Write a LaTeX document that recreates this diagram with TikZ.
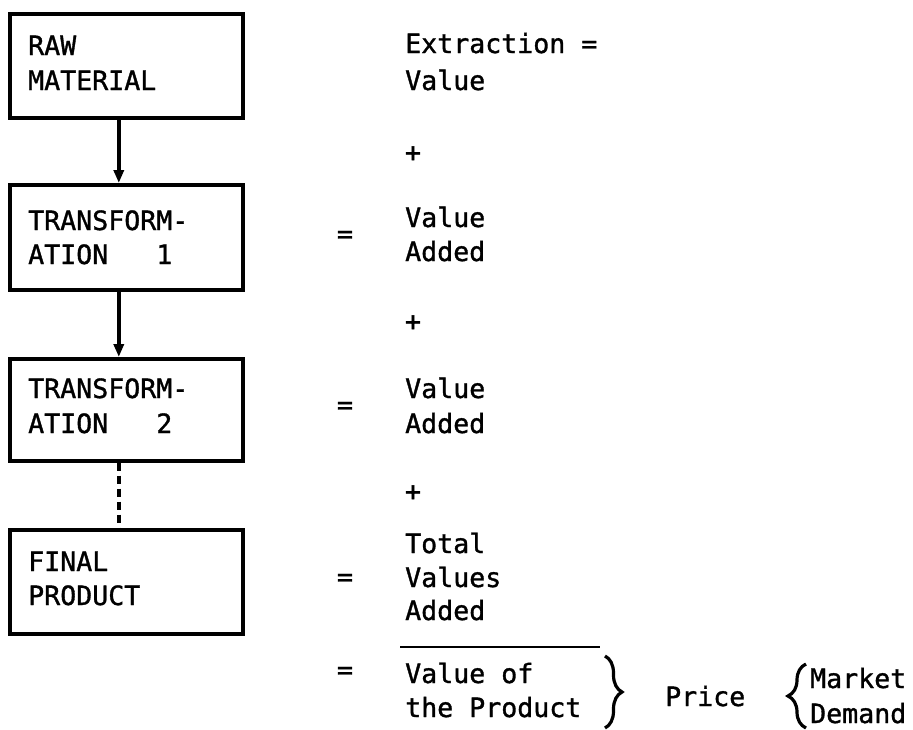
\documentclass[tikz,border=0pt]{standalone}
\usepackage{fontspec}
\newfontfamily\monofnt[FakeBold=1.2]{DejaVu Sans Mono}
\usetikzlibrary{arrows.meta,decorations.pathreplacing}
\begin{document}
\begin{tikzpicture}[x=1pt,y=-1pt,
  boxst/.style={draw,line width=3.6pt,minimum width=233pt,anchor=north west,inner sep=0pt},
  txt/.style={font=\monofnt\fontsize{26.6}{34}\selectfont,anchor=base west,inner sep=0pt},
  sym/.style={font=\monofnt\fontsize{26.6}{34}\selectfont,anchor=center,inner sep=0pt},
  arrowst/.style={line width=3.6pt,-{Triangle[length=13pt,width=10pt]}},
  dashst/.style={line width=3.6pt,dash pattern=on 8pt off 5pt},
  bracest/.style={line width=3.2pt,decorate,decoration={brace,amplitude=#1}}]
\useasboundingbox (0,0) rectangle (913,729);
% boxes
\node[boxst,minimum height=104pt] (b1) at (8,12) {};
\node[boxst,minimum height=105pt] (b2) at (8,183) {};
\node[boxst,minimum height=102pt] (b3) at (8,357) {};
\node[boxst,minimum height=104pt] (b4) at (8,528) {};
% box texts
\node[txt] (t1a) at (28,55) {RAW};
\node[txt] (t1b) at (28,90) {MATERIAL};
\node[txt] (t2a) at (28,230) {TRANSFORM-};
\node[txt] (t2b) at (28,264) {ATION\ \ \ 1};
\node[txt] (t3a) at (28,398) {TRANSFORM-};
\node[txt] (t3b) at (28,433) {ATION\ \ \ 2};
\node[txt] (t4a) at (28,571) {FINAL};
\node[txt] (t4b) at (28,605) {PRODUCT};
% connectors
\draw[arrowst] ([xshift=-7.5pt]b1.south) -- ([xshift=-7.5pt]b2.north);
\draw[arrowst] ([xshift=-7.5pt]b2.south) -- ([xshift=-7.5pt]b3.north);
\draw[dashst] ([xshift=-7.5pt]b3.south) -- ([xshift=-7.5pt]b4.north);
% right column
\node[txt] (r1a) at (405,53) {Extraction =};
\node[txt] (r1b) at (405,90) {Value};
\node[sym] (p1) at (413,154) {+};
\node[sym] (e2) at (345,237) {=};
\node[txt] (r2a) at (405,227) {Value};
\node[txt] (r2b) at (405,261) {Added};
\node[sym] (p2) at (413,323) {+};
\node[sym] (e3) at (345,408) {=};
\node[txt] (r3a) at (405,398) {Value};
\node[txt] (r3b) at (405,433) {Added};
\node[sym] (p3) at (413,493) {+};
\node[sym] (e4) at (345,580) {=};
\node[txt] (r4a) at (405,553) {Total};
\node[txt] (r4b) at (405,587) {Values};
\node[txt] (r4c) at (405,620) {Added};
\coordinate (ruleL) at (400,647);
\coordinate (ruleR) at (600,647);
\draw[line width=2.8pt] (ruleL) -- (ruleR);
\node[sym] (e5) at (345,673) {=};
\node[txt] (r5a) at (405,683) {Value of};
\node[txt] (r5b) at (405,717) {the Product};
\coordinate (brAt) at (605,656);
\coordinate (brAb) at (605,728);
\draw[bracest=17pt] (brAt) -- (brAb);
\node[txt] (price) at (665,706) {Price};
\coordinate (brBt) at (806,664);
\coordinate (brBb) at (806,728);
\draw[bracest=18pt] (brBb) -- (brBt);
\node[txt] (mk) at (810,688) {Market};
\node[txt] (dm) at (810,723) {Demand};
\end{tikzpicture}
\end{document}
